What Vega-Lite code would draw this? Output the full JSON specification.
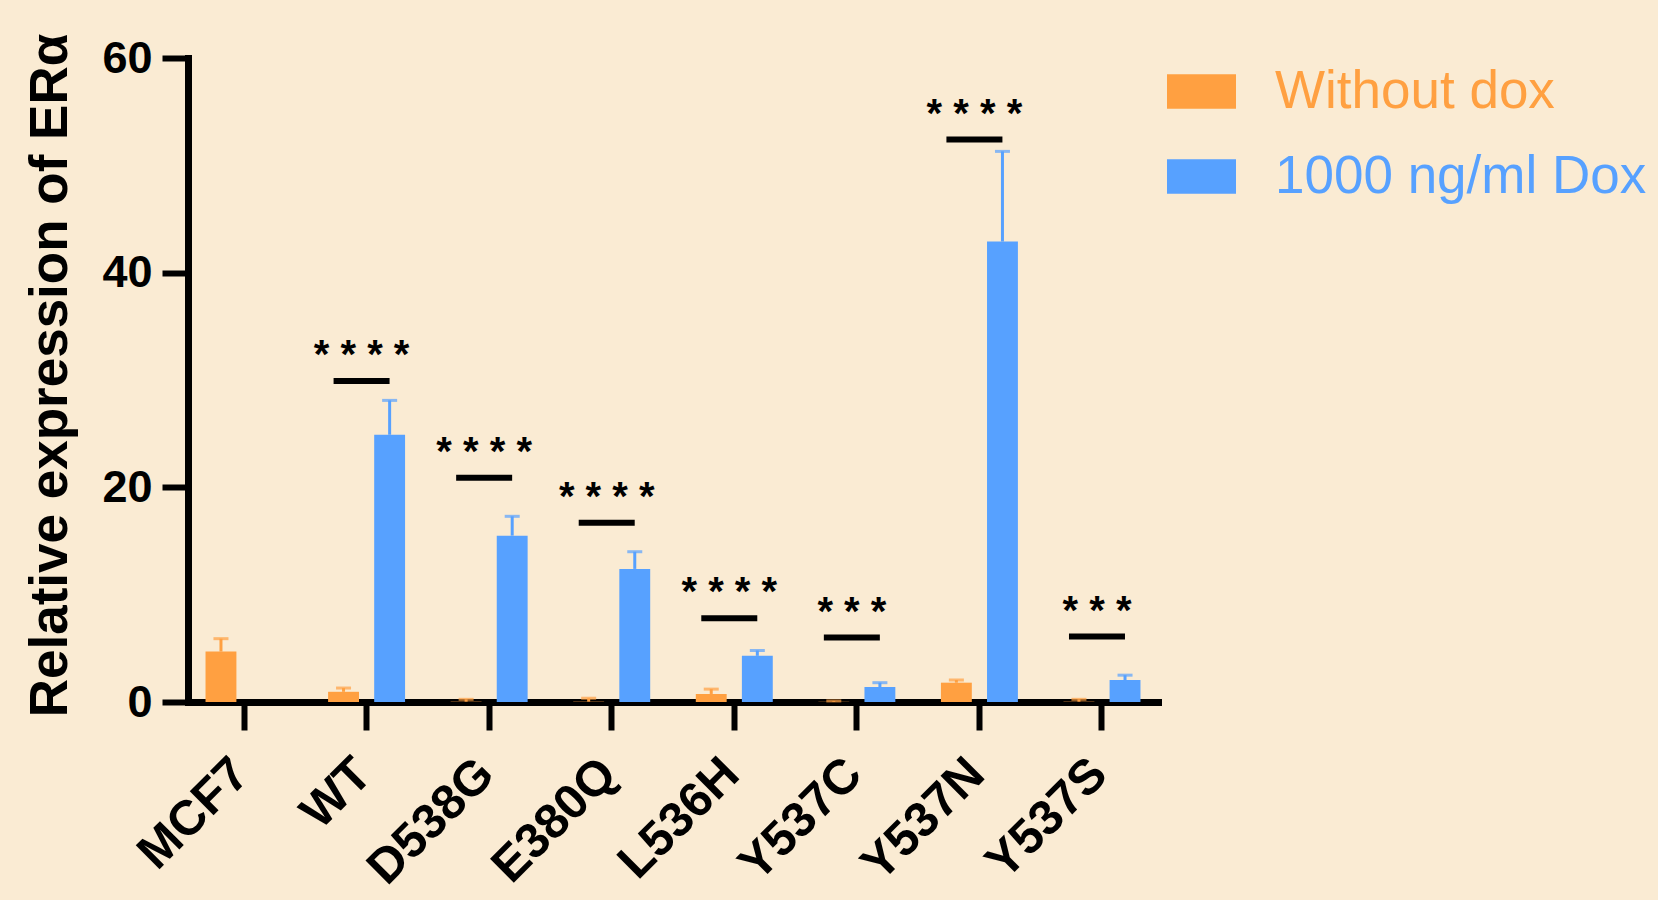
{
  "$schema": "https://vega.github.io/schema/vega-lite/v6.json",
  "width": 970,
  "height": 644,
  "autosize": {"type": "none"},
  "padding": {"left": 188, "top": 58, "right": 500, "bottom": 198},
  "background": "#FAEBD3",
  "view": {"stroke": null},
  "config": {
    "font": "Liberation Sans",
    "axis": {"domainColor": "black", "tickColor": "black", "labelColor": "black", "titleColor": "black", "grid": false}
  },
  "datasets": {
    "bars": [
      {"cat": "MCF7", "group": "Without dox", "value": 4.7, "upper": 5.9},
      {"cat": "WT", "group": "Without dox", "value": 0.95, "upper": 1.3},
      {"cat": "WT", "group": "1000 ng/ml Dox", "value": 24.9, "upper": 28.1},
      {"cat": "D538G", "group": "Without dox", "value": 0.03, "upper": 0.25},
      {"cat": "D538G", "group": "1000 ng/ml Dox", "value": 15.5, "upper": 17.3},
      {"cat": "E380Q", "group": "Without dox", "value": 0.03, "upper": 0.35},
      {"cat": "E380Q", "group": "1000 ng/ml Dox", "value": 12.4, "upper": 14.0},
      {"cat": "L536H", "group": "Without dox", "value": 0.75, "upper": 1.2},
      {"cat": "L536H", "group": "1000 ng/ml Dox", "value": 4.3, "upper": 4.8},
      {"cat": "Y537C", "group": "Without dox", "value": 0.02, "upper": 0.1},
      {"cat": "Y537C", "group": "1000 ng/ml Dox", "value": 1.4, "upper": 1.8},
      {"cat": "Y537N", "group": "Without dox", "value": 1.8, "upper": 2.05},
      {"cat": "Y537N", "group": "1000 ng/ml Dox", "value": 42.9, "upper": 51.3},
      {"cat": "Y537S", "group": "Without dox", "value": 0.03, "upper": 0.25},
      {"cat": "Y537S", "group": "1000 ng/ml Dox", "value": 2.05, "upper": 2.5}
    ],
    "sig": [
      {"cat": "WT", "line": 29.9, "stars": "* * * *"},
      {"cat": "D538G", "line": 20.9, "stars": "* * * *"},
      {"cat": "E380Q", "line": 16.7, "stars": "* * * *"},
      {"cat": "L536H", "line": 7.8, "stars": "* * * *"},
      {"cat": "Y537C", "line": 6.0, "stars": "* * *"},
      {"cat": "Y537N", "line": 52.4, "stars": "* * * *"},
      {"cat": "Y537S", "line": 6.1, "stars": "* * *"}
    ]
  },
  "encoding": {
    "x": {
      "field": "cat", "type": "nominal",
      "sort": ["MCF7", "WT", "D538G", "E380Q", "L536H", "Y537C", "Y537N", "Y537S"],
      "scale": {"paddingInner": 0.372, "paddingOuter": 0.143},
      "axis": {
        "title": null, "labelAngle": -45, "labelAlign": "right", "labelBaseline": "top",
        "labelFontSize": 49, "labelFontWeight": "bold", "labelPadding": 19, "labelOffset": -20,
        "tickSize": 28, "tickWidth": 6, "domainWidth": 7, "domainCap": "square"
      }
    }
  },
  "layer": [
    {
      "data": {"name": "bars"},
      "mark": {"type": "bar"},
      "encoding": {
        "xOffset": {"field": "group", "type": "nominal", "sort": ["Without dox", "1000 ng/ml Dox"], "scale": {"paddingInner": 0.33}},
        "y": {
          "field": "value", "type": "quantitative",
          "scale": {"domain": [0, 60], "nice": false},
          "axis": {
            "title": "Relative expression of ERα", "titleFontSize": 53, "titleFontWeight": "bold", "titlePadding": 24, "titleY": 317,
            "values": [0, 20, 40, 60], "labelFontSize": 45, "labelFontWeight": "bold", "labelPadding": 10,
            "tickSize": 26, "tickWidth": 6, "domainWidth": 7, "domainCap": "square"
          }
        },
        "color": {
          "field": "group", "type": "nominal",
          "sort": ["Without dox", "1000 ng/ml Dox"],
          "scale": {"domain": ["Without dox", "1000 ng/ml Dox"], "range": ["#FFA041", "#57A1FF"]},
          "legend": {
            "title": null, "orient": "none", "legendX": 979, "legendY": -1,
            "padding": 0, "symbolType": "M-1,-0.5H1V0.5H-1Z", "symbolSize": 4761,
            "symbolStrokeWidth": 0, "symbolOpacity": 1, "labelFontSize": 53, "labelOffset": 39,
            "labelFont": "Liberation Sans", "rowPadding": 23,
            "labelLimit": 600,
            "encode": {"labels": {"update": {"fill": {"scale": "color", "field": "value"}}}}
          }
        }
      }
    },
    {
      "data": {"name": "bars"},
      "mark": {"type": "rule", "strokeWidth": 3},
      "encoding": {
        "xOffset": {"field": "group", "type": "nominal", "sort": ["Without dox", "1000 ng/ml Dox"]},
        "y": {"field": "value", "type": "quantitative"},
        "y2": {"field": "upper"},
        "color": {"field": "group", "type": "nominal"}
      }
    },
    {
      "data": {"name": "bars"},
      "mark": {"type": "tick", "size": 15, "thickness": 3},
      "encoding": {
        "xOffset": {"field": "group", "type": "nominal", "sort": ["Without dox", "1000 ng/ml Dox"]},
        "y": {"field": "upper", "type": "quantitative"},
        "color": {"field": "group", "type": "nominal"}
      }
    },
    {
      "data": {"name": "sig"},
      "mark": {"type": "tick", "size": 56, "thickness": 6, "color": "black", "xOffset": -5, "opacity": 1},
      "encoding": {
        "y": {"field": "line", "type": "quantitative"}
      }
    },
    {
      "data": {"name": "sig"},
      "mark": {"type": "text", "fontSize": 40, "fontWeight": "bold", "color": "black", "baseline": "alphabetic", "dy": -13, "dx": -5},
      "encoding": {
        "y": {"field": "line", "type": "quantitative"},
        "text": {"field": "stars"}
      }
    }
  ]
}
